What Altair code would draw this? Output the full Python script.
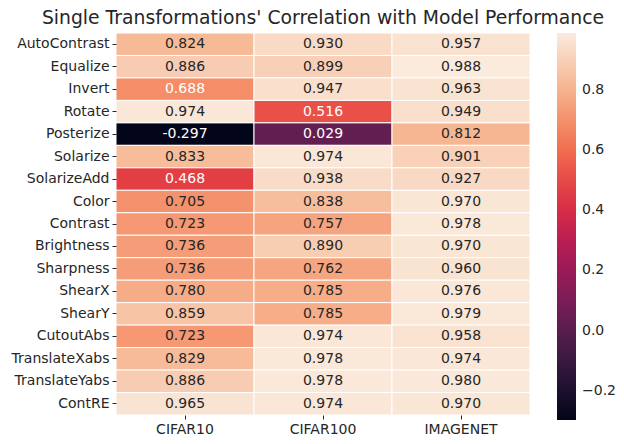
import altair as alt
import pandas as pd

rows = ["AutoContrast", "Equalize", "Invert", "Rotate", "Posterize", "Solarize",
        "SolarizeAdd", "Color", "Contrast", "Brightness", "Sharpness", "ShearX",
        "ShearY", "CutoutAbs", "TranslateXabs", "TranslateYabs", "ContRE"]
cols = ["CIFAR10", "CIFAR100", "IMAGENET"]
cifar10 = [0.824, 0.886, 0.688, 0.974, -0.297, 0.833, 0.468, 0.705, 0.723, 0.736,
           0.736, 0.780, 0.859, 0.723, 0.829, 0.886, 0.965]
cifar100 = [0.930, 0.899, 0.947, 0.516, 0.029, 0.974, 0.938, 0.838, 0.757, 0.890,
            0.762, 0.785, 0.785, 0.974, 0.978, 0.978, 0.974]
imagenet = [0.957, 0.988, 0.963, 0.949, 0.812, 0.901, 0.927, 0.970, 0.978, 0.970,
            0.960, 0.976, 0.979, 0.958, 0.974, 0.980, 0.970]

recs = []
for c, vals in zip(cols, [cifar10, cifar100, imagenet]):
    for r, v in zip(rows, vals):
        recs.append({"row": r, "col": c, "value": v, "label": f"{v:.3f}"})
df = pd.DataFrame(recs)

vmin = min(cifar10 + cifar100 + imagenet)
vmax = max(cifar10 + cifar100 + imagenet)
rocket = ["#03051A", "#35193e", "#701f57", "#ad1759", "#e13342", "#f37651", "#f6b48f", "#faebdd"]

font = "DejaVu Sans"
fs = 14
base = alt.Chart(df)
x = alt.X("col:N", sort=cols, title=None,
          axis=alt.Axis(labelAngle=0, domain=False, ticks=True, tickSize=4, labelFontSize=fs,
                        labelFont=font, labelColor="#262626", tickColor="#262626", labelPadding=3))
y = alt.Y("row:N", sort=rows, title=None,
          axis=alt.Axis(domain=False, ticks=True, tickSize=4, labelFontSize=fs,
                        labelFont=font, labelColor="#262626", tickColor="#262626", labelPadding=3))

rects = base.mark_rect(stroke="white", strokeWidth=1).encode(
    x=x, y=y,
    color=alt.Color("value:Q",
                    scale=alt.Scale(domain=[vmin, vmax], range=rocket, interpolate="rgb"),
                    legend=alt.Legend(title=None, values=[-0.2, 0.0, 0.2, 0.4, 0.6, 0.8],
                                      format=".1f", gradientLength=387, gradientThickness=19,
                                      labelFontSize=fs, labelFont=font, labelColor="#262626",
                                      gradientStrokeWidth=0, labelOffset=6, offset=27,
                                      direction="vertical")),
)
text = base.mark_text(fontSize=fs, font=font).encode(
    x=alt.X("col:N", sort=cols), y=alt.Y("row:N", sort=rows), text="label:N",
    color=alt.condition(alt.datum.value < 0.7, alt.value("white"), alt.value("#262626")),
)

chart = (rects + text).properties(
    width=608, height=428,
    autosize=alt.AutoSizeParams(type="fit", contains="padding"),
    padding={"left": 3, "top": 0, "right": 0, "bottom": 0},
    title=alt.TitleParams("Single Transformations' Correlation with Model Performance",
                          fontSize=18.8, font=font, fontWeight="normal", color="#262626", offset=5),
).configure_view(stroke=None).configure_scale(bandPaddingInner=0, bandPaddingOuter=0)

chart.save("out.html", embed_options={"renderer": "svg", "actions": False})
